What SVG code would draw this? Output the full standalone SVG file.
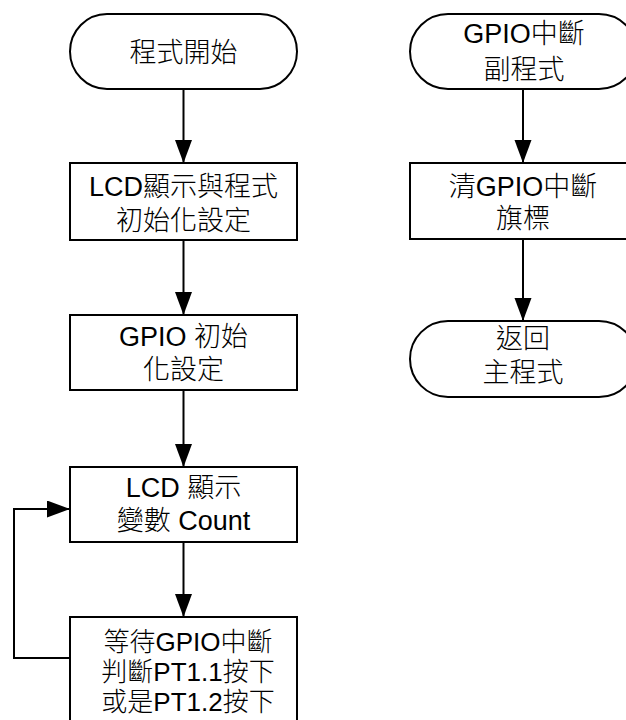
<svg xmlns="http://www.w3.org/2000/svg" width="626" height="720" viewBox="0 0 626 720">
<defs>
<marker id="ah" markerUnits="userSpaceOnUse" markerWidth="24" markerHeight="18" refX="23" refY="8.5" orient="auto">
<path d="M0,0 L23,8.5 L0,17 z" fill="#000"/>
</marker>
<style>
.s{fill:#fff;stroke:#000;stroke-width:2}
.c{fill:none;stroke:#000;stroke-width:2;marker-end:url(#ah)}
text{font-family:"Liberation Sans","Noto Sans CJK TC",sans-serif;font-size:27px;font-weight:300;text-anchor:middle;fill:#000}
.sm{font-size:26px}
</style>
</defs>
<rect width="626" height="720" fill="#fff"/>
<g id="connectors">
<path class="c" d="M183.5,89 V163"/>
<path class="c" d="M183.5,240 V315"/>
<path class="c" d="M183.5,390 V467"/>
<path class="c" d="M183.5,542 V617"/>
<path class="c" d="M70,658 H14 V509 H70"/>
<path class="c" d="M523,89 V163"/>
<path class="c" d="M523,239 V321"/>
</g>
<g id="start">
<rect class="s" x="70" y="14" width="227" height="75" rx="37" ry="37.5"/>
<text x="183.5" y="62">程式開始</text>
</g>
<g id="lcdinit">
<rect class="s" x="70" y="163" width="227" height="77"/>
<text x="183.5" y="196">LCD顯示與程式</text>
<text x="183.5" y="230">初始化設定</text>
</g>
<g id="gpioinit">
<rect class="s" x="70" y="315" width="227" height="75"/>
<text x="183.5" y="346">GPIO 初始</text>
<text x="183.5" y="379">化設定</text>
</g>
<g id="lcdshow">
<rect class="s" x="70" y="467" width="227" height="75"/>
<text x="183.5" y="497">LCD 顯示</text>
<text x="183.5" y="530">變數 Count</text>
</g>
<g id="wait">
<rect class="s" x="70" y="617" width="227" height="120"/>
<text class="sm" x="188" y="651">等待GPIO中斷</text>
<text class="sm" x="188" y="681">判斷PT1.1按下</text>
<text class="sm" x="188" y="711">或是PT1.2按下</text>
</g>
<g id="isr">
<rect class="s" x="410" y="14" width="227" height="75" rx="38" ry="37.5"/>
<text x="524" y="43">GPIO中斷</text>
<text x="524" y="79">副程式</text>
</g>
<g id="clearflag">
<rect class="s" x="410" y="163" width="227" height="76"/>
<text x="523" y="196">清GPIO中斷</text>
<text x="523" y="228">旗標</text>
</g>
<g id="return">
<rect class="s" x="410" y="321" width="227" height="76" rx="38" ry="38"/>
<text x="523" y="348">返回</text>
<text x="523" y="382">主程式</text>
</g>
</svg>
